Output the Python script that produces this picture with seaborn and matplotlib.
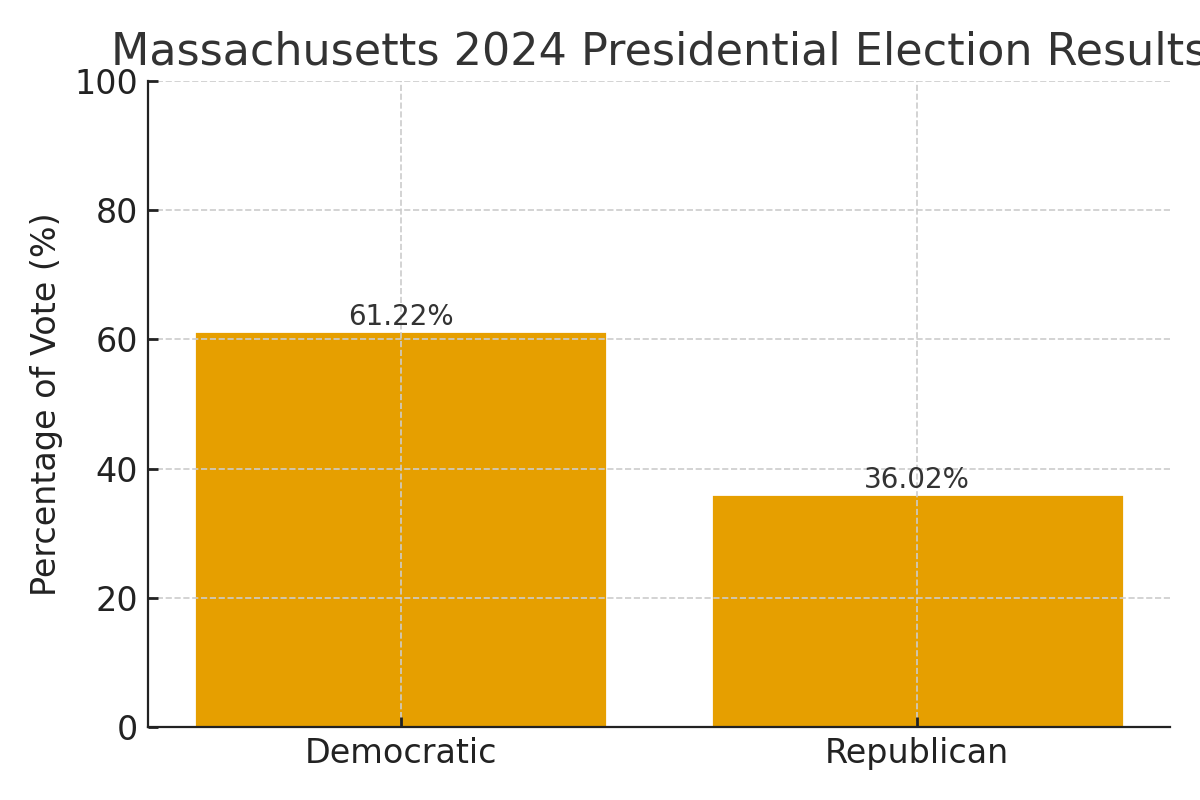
import numpy as np
import pandas as pd
import matplotlib
matplotlib.use("Agg")
import matplotlib.pyplot as plt
import seaborn as sns

# data
parties = ["Democratic", "Republican"]
vote_pct = [61.22, 36.02]

df = pd.DataFrame({"Party": parties, "Percent": vote_pct})

sns.set_style("ticks", {"xtick.direction": "in", "ytick.direction": "in",
                        "xtick.major.size": 3.5, "ytick.major.size": 3.5,
                        "axes.edgecolor": "#222222", "axes.linewidth": 1.25})
plt.rcParams["font.family"] = ["DejaVu Sans"]

fig, ax = plt.subplots(figsize=(6, 4), dpi=200)
fig.subplots_adjust(left=0.1233, right=0.975, top=0.899, bottom=0.091)

sns.barplot(data=df, x="Party", y="Percent", color="#E69F00", saturation=1,
            width=0.8, ax=ax, zorder=2)

# labels on top of the bars
for i, v in enumerate(vote_pct):
    ax.text(i, v, f"{v:.2f}%", ha="center", va="bottom",
            fontsize=10, color="#333333", zorder=3)

ax.set_ylim(0, 100)
ax.set_xlim(-0.49, 1.49)
ax.set_xlabel("")
ax.set_ylabel("Percentage of Vote (%)", fontsize=12, color="#222222")
ax.set_title("Massachusetts 2024 Presidential Election Results", fontsize=16, color="#333333")
ax.tick_params(labelsize=12, colors="#222222", width=1.0, pad=3.5)
ax.grid(True, linestyle="--", color="#cccccc", linewidth=0.6, zorder=0)
ax.set_axisbelow(False)
sns.despine(ax=ax)
for s in ax.spines.values():
    s.set_zorder(4)

fig.savefig("out.png", dpi=200)
